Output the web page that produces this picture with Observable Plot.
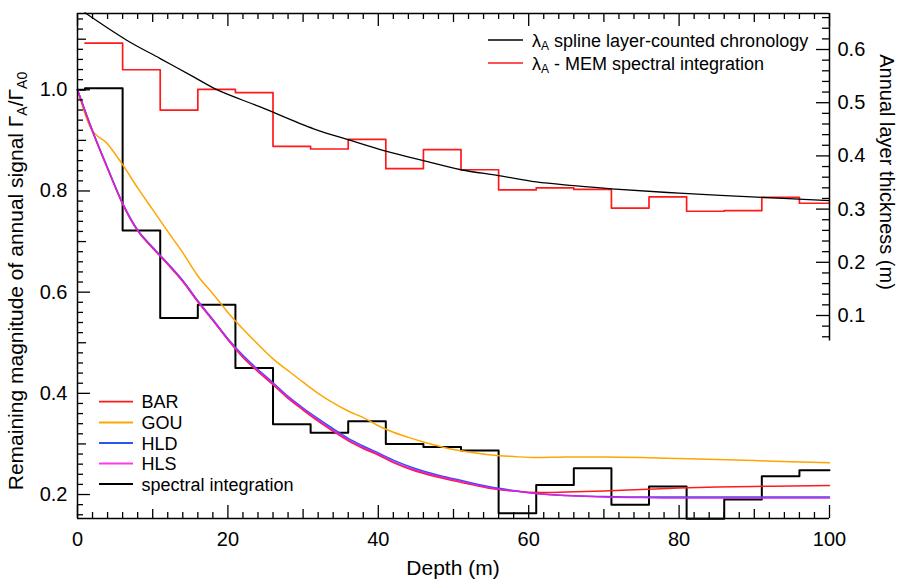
<!DOCTYPE html>
<html>
<head>
<meta charset="utf-8">
<script src="https://cdn.jsdelivr.net/npm/d3@7"></script>
<script src="https://cdn.jsdelivr.net/npm/@observablehq/plot@0.6"></script>
<style>
  body { margin: 0; background: #fff; }
  #chart { width: 899px; height: 585px; }
</style>
</head>
<body>
<div id="chart"></div>
<script>
// ---------------- data ----------------
// spectral integration (left axis), 5 m steps
const spectralDepth = [0, 1, 6, 11, 16, 21, 26, 31, 36, 41, 46, 51, 56, 61, 66, 71, 76, 81, 86, 91, 96, 100];
const spectralSignal = [1.000, 1.003, 0.722, 0.549, 0.575, 0.450, 0.339, 0.322, 0.345, 0.300, 0.294, 0.287, 0.163, 0.219, 0.252, 0.180, 0.216, 0.152, 0.190, 0.236, 0.248, 0.248];

// model curves (left axis)
const modelDepth = [0, 2, 4, 6, 8, 10, 12, 14, 16, 18, 20, 22, 24, 26, 28, 30, 32, 34, 36, 38, 40, 42, 45, 48, 50, 53, 55, 58, 61, 65, 70, 75, 80, 85, 90, 95, 100];
const barSignal = [1.000, 0.917, 0.844, 0.774, 0.721, 0.687, 0.655, 0.621, 0.581, 0.544, 0.506, 0.471, 0.443, 0.417, 0.390, 0.367, 0.345, 0.325, 0.306, 0.291, 0.278, 0.263, 0.246, 0.234, 0.227, 0.218, 0.212, 0.207, 0.204, 0.205, 0.207, 0.210, 0.213, 0.215, 0.216, 0.217, 0.218];
const hldSignal = [1.000, 0.919, 0.846, 0.776, 0.723, 0.689, 0.657, 0.623, 0.583, 0.546, 0.508, 0.475, 0.447, 0.421, 0.394, 0.371, 0.350, 0.330, 0.311, 0.296, 0.282, 0.268, 0.251, 0.238, 0.231, 0.221, 0.215, 0.208, 0.202, 0.198, 0.196, 0.195, 0.195, 0.195, 0.195, 0.195, 0.195];
const hlsSignal = [1.000, 0.918, 0.845, 0.775, 0.722, 0.688, 0.656, 0.622, 0.582, 0.545, 0.507, 0.473, 0.445, 0.419, 0.392, 0.369, 0.347, 0.327, 0.308, 0.293, 0.280, 0.265, 0.248, 0.236, 0.229, 0.219, 0.213, 0.207, 0.202, 0.198, 0.195, 0.194, 0.193, 0.193, 0.193, 0.193, 0.193];
const gouDepth = [0, 1.7, 4, 6, 8, 10, 12, 14, 16, 18, 20, 22, 24, 26, 28, 30, 32, 34, 36, 38, 40, 42, 44, 46, 48, 50, 52, 55, 58, 61, 65, 70, 75, 80, 85, 90, 95, 100];
const gouSignal = [1.000, 0.926, 0.893, 0.852, 0.806, 0.763, 0.720, 0.678, 0.632, 0.597, 0.560, 0.527, 0.497, 0.468, 0.445, 0.422, 0.400, 0.381, 0.365, 0.352, 0.336, 0.323, 0.313, 0.304, 0.296, 0.289, 0.284, 0.278, 0.275, 0.273, 0.274, 0.274, 0.273, 0.271, 0.269, 0.267, 0.265, 0.263];

// annual layer thickness (right axis)
const memDepth = [1, 6, 11, 16, 21, 26, 31, 36, 41, 46, 51, 56, 61, 66, 71, 76, 81, 86, 91, 96, 100];
const memThickness = [0.612, 0.562, 0.486, 0.525, 0.519, 0.418, 0.413, 0.431, 0.376, 0.412, 0.374, 0.336, 0.340, 0.337, 0.302, 0.323, 0.296, 0.297, 0.322, 0.311, 0.311];
const splineDepth = [1, 6.6, 11, 15.5, 18.6, 24.3, 31.4, 36.1, 41, 46, 51, 56, 61, 66, 71, 80, 91, 100];
const splineThickness = [0.669, 0.617, 0.583, 0.548, 0.524, 0.492, 0.451, 0.430, 0.409, 0.391, 0.374, 0.363, 0.351, 0.344, 0.338, 0.330, 0.322, 0.316];

// tick values
const xMajor = [0, 20, 40, 60, 80, 100];
const xMedium = [10, 30, 50, 70, 90];
const xMinor = d3.range(0, 101, 2).filter(v => v % 10 !== 0);
const yMajor = [0.2, 0.4, 0.6, 0.8, 1.0];
const yMedium = [0.3, 0.5, 0.7, 0.9, 1.1];
const yMinor = d3.range(16, 115, 2).filter(v => v % 10 !== 0).map(v => v / 100);
const rMajor = [0.1, 0.2, 0.3, 0.4, 0.5, 0.6];
const rMinor = d3.range(6, 67, 2).filter(v => v % 10 !== 0).map(v => v / 100);

// ---------------- layout ----------------
const W = 899, H = 585, mL = 77, mR = 70, mT = 13, mB = 67;
const innerW = W - mL - mR, innerH = H - mT - mB;
const yDom = [0.1526, 1.1508];           // left axis extent
const rDom = [-0.2816, 0.6677];          // right axis extent (same pixel range)
const toLeft = d3.scaleLinear().domain(rDom).range(yDom);
const rAxisBottom = 0.052;

const zip = (xs, ys) => xs.map((d, i) => ({d, v: ys[i]}));
const spectral = zip(spectralDepth, spectralSignal);
const bar = zip(modelDepth, barSignal);
const hld = zip(modelDepth, hldSignal);
const hls = zip(modelDepth, hlsSignal);
const gou = zip(gouDepth, gouSignal);
const mem = zip(memDepth, memThickness);
const spline = zip(splineDepth, splineThickness);

const colors = {BAR: "#ff1a1a", GOU: "#ffa500", HLD: "#2a55f0", HLS: "#e01ee0", SPEC: "#000000", MEM: "#ff1a1a", SPLINE: "#000000"};
const axW = 1.5;

const svg = Plot.plot({
  width: W, height: H,
  marginLeft: mL, marginRight: mR, marginTop: mT, marginBottom: mB,
  x: {domain: [0, 100], axis: null},
  y: {domain: yDom, axis: null},
  style: {fontFamily: "'Liberation Sans', Arial, sans-serif", fontSize: "20px", background: "white", color: "black", overflow: "visible"},
  marks: [
    // right-axis series
    Plot.line(mem, {x: "d", y: d => toLeft(d.v), curve: "step-after", stroke: colors.MEM, strokeWidth: 1.7}),
    Plot.line(spline, {x: "d", y: d => toLeft(d.v), curve: "catmull-rom", stroke: colors.SPLINE, strokeWidth: 1.3}),
    // left-axis series
    Plot.line(spectral, {x: "d", y: "v", curve: "step-after", stroke: colors.SPEC, strokeWidth: 2}),
    Plot.line(gou, {x: "d", y: "v", curve: "monotone-x", stroke: colors.GOU, strokeWidth: 1.5}),
    Plot.line(bar, {x: "d", y: "v", curve: "monotone-x", stroke: colors.BAR, strokeWidth: 1.5}),
    Plot.line(hld, {x: "d", y: "v", curve: "monotone-x", stroke: colors.HLD, strokeWidth: 1.5}),
    Plot.line(hls, {x: "d", y: "v", curve: "monotone-x", stroke: colors.HLS, strokeWidth: 1.5}),
    // frame
    Plot.ruleX([0], {strokeWidth: axW}),
    Plot.ruleY([yDom[0]], {strokeWidth: axW}),
    Plot.ruleY([yDom[1]], {strokeWidth: axW}),
    Plot.ruleX([100], {y1: toLeft(rAxisBottom), y2: yDom[1], strokeWidth: axW}),
    // bottom ticks
    Plot.ruleX(xMajor, {insetTop: innerH - 13, strokeWidth: 1.3}),
    Plot.ruleX(xMedium, {insetTop: innerH - 9, strokeWidth: 1.3}),
    Plot.ruleX(xMinor, {insetTop: innerH - 6, strokeWidth: 1.3}),
    // top ticks
    Plot.ruleX(xMajor, {insetBottom: innerH - 13, strokeWidth: 1.3}),
    Plot.ruleX(xMedium, {insetBottom: innerH - 9, strokeWidth: 1.3}),
    Plot.ruleX(xMinor, {insetBottom: innerH - 6, strokeWidth: 1.3}),
    // left ticks
    Plot.ruleY(yMajor, {insetRight: innerW - 13, strokeWidth: 1.3}),
    Plot.ruleY(yMedium, {insetRight: innerW - 9, strokeWidth: 1.3}),
    Plot.ruleY(yMinor, {insetRight: innerW - 6, strokeWidth: 1.3}),
    // right ticks
    Plot.ruleY(rMajor.map(toLeft), {insetLeft: innerW - 13, strokeWidth: 1.3}),
    Plot.ruleY(rMinor.map(toLeft), {insetLeft: innerW - 7, strokeWidth: 1.3}),
    // tick labels
    Plot.axisX({anchor: "bottom", ticks: xMajor, tickSize: 0, tickPadding: 13, label: null}),
    Plot.axisY({anchor: "left", ticks: yMajor, tickSize: 0, tickPadding: 10, tickFormat: d3.format(".1f"), label: null}),
    Plot.axisY({anchor: "right", ticks: rMajor.map(toLeft), tickSize: 0, tickPadding: 8, tickFormat: d => toLeft.invert(d).toFixed(1), label: null})
  ]
});

// ---------------- titles & legends ----------------
const s = d3.select(svg);
const font = "'Liberation Sans', Arial, sans-serif";

// x title
s.append("text").attr("x", 453).attr("y", 575).attr("text-anchor", "middle")
  .attr("font-family", font).attr("font-size", 21).attr("fill", "black").text("Depth (m)");

// left title with subscripts
const lt = s.append("text").attr("transform", "translate(23,281) rotate(-90)").attr("text-anchor", "middle")
  .attr("font-family", font).attr("font-size", 21).attr("fill", "black");
lt.append("tspan").text("Remaining magnitude of annual signal \u0393");
lt.append("tspan").attr("dy", 4).attr("font-size", 14).text("A");
lt.append("tspan").attr("dy", -4).text("/\u0393");
lt.append("tspan").attr("dy", 4).attr("font-size", 14).text("A0");

// right title
s.append("text").attr("transform", "translate(880,172) rotate(90)").attr("text-anchor", "middle")
  .attr("font-family", font).attr("font-size", 20).attr("fill", "black").text("Annual layer thickness (m)");

// top-right legend
const topLegend = [
  {label: " spline layer-counted chronology", color: colors.SPLINE, y: 40},
  {label: " - MEM spectral integration", color: colors.MEM, y: 63}
];
topLegend.forEach(e => {
  s.append("line").attr("x1", 488).attr("x2", 523).attr("y1", e.y).attr("y2", e.y)
    .attr("stroke", e.color).attr("stroke-width", 1.5);
  const t = s.append("text").attr("x", 532).attr("y", e.y + 6.5).attr("text-anchor", "start")
    .attr("font-family", font).attr("font-size", 18).attr("fill", "black");
  t.append("tspan").text("\u03bb");
  t.append("tspan").attr("dy", 3).attr("font-size", 12).text("A");
  t.append("tspan").attr("dy", -3).text(e.label);
});

// bottom-left legend
const bottomLegend = [
  {label: "BAR", color: colors.BAR, y: 401.7},
  {label: "GOU", color: colors.GOU, y: 422.5},
  {label: "HLD", color: colors.HLD, y: 443},
  {label: "HLS", color: "#ff3ae8", y: 463.5},
  {label: "spectral integration", color: colors.SPEC, y: 484}
];
bottomLegend.forEach(e => {
  s.append("line").attr("x1", 99).attr("x2", 133).attr("y1", e.y).attr("y2", e.y)
    .attr("stroke", e.color).attr("stroke-width", 1.8);
  s.append("text").attr("x", 141.5).attr("y", e.y + 6.5).attr("text-anchor", "start")
    .attr("font-family", font).attr("font-size", 18).attr("fill", "black").text(e.label);
});

document.getElementById("chart").appendChild(svg);
</script>
</body>
</html>
